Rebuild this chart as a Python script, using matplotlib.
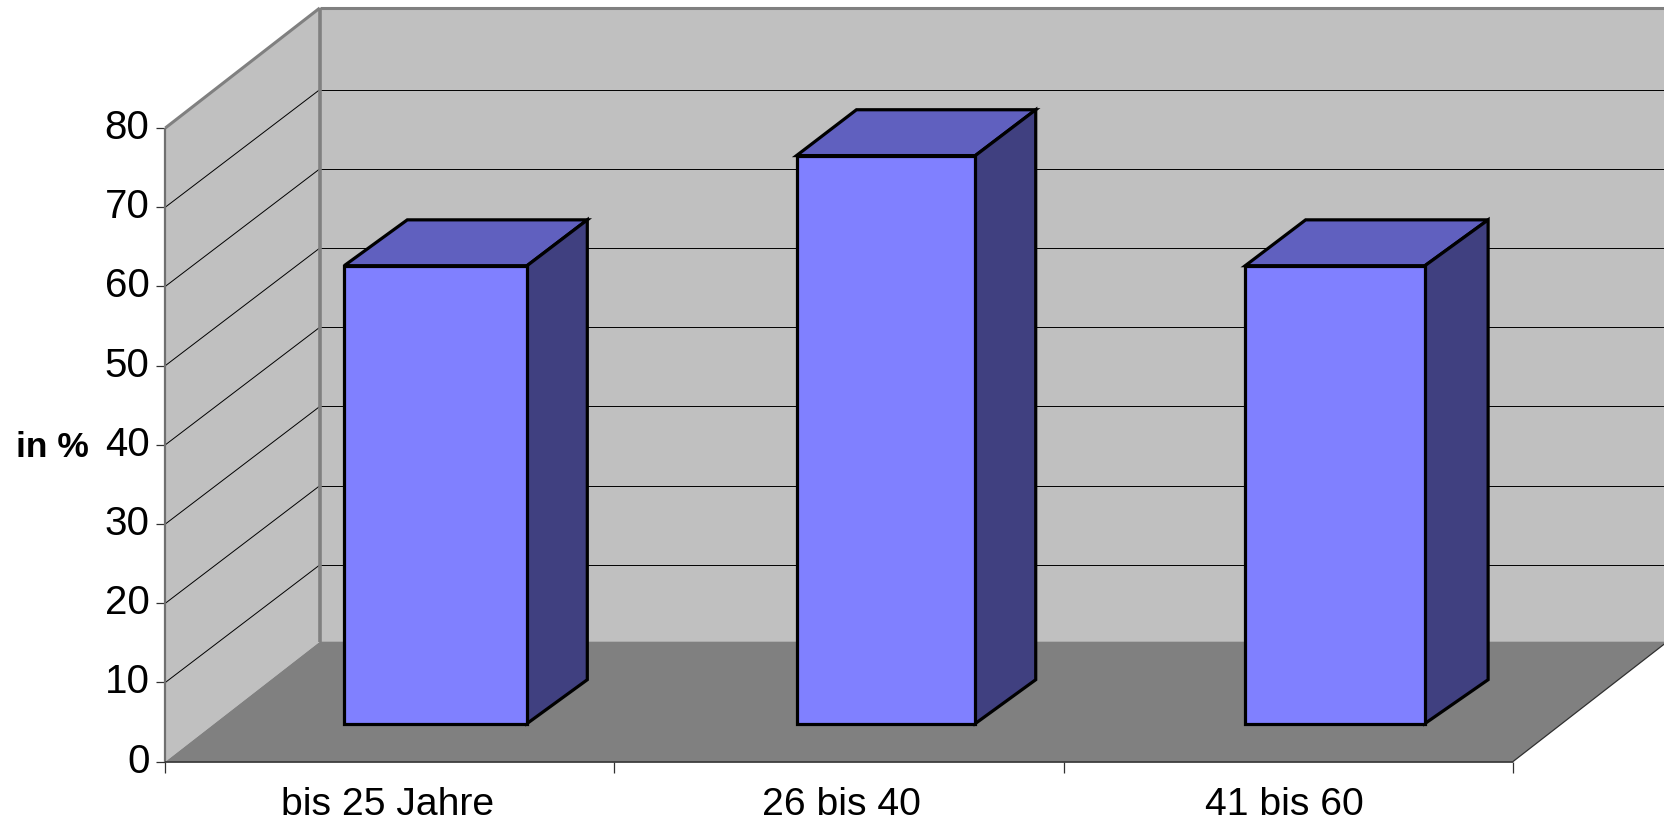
import matplotlib
matplotlib.use("Agg")
import matplotlib.pyplot as plt
from matplotlib.patches import Polygon
from matplotlib.transforms import ScaledTranslation

categories = ["bis 25 Jahre", "26 bis 40", "41 bis 60"]
values = [57.8, 71.7, 57.8]
bar_left = [0.289, 1.296, 2.295]
bar_width = [0.407, 0.398, 0.400]
bar_depth_end = [0.708, 0.709, 0.727]
bar_top_back_shift = [0.009, 0.002, 0.003]
y_ticks = [0, 10, 20, 30, 40, 50, 60, 70, 80]
label_shift_px = [-2, 2.5, -3.5]

W, H = 1665, 823
L, R, Y0, Y80 = 165.3, 1512.8, 761.7, 128.0
DX_PX, DY_PX = 154.5, 120.0
X_MAX, Y_MAX = 3, 80
PX_X = (R - L) / X_MAX
PX_Y = (Y0 - Y80) / Y_MAX
DX = DX_PX / PX_X
DY = DY_PX / PX_Y
D_START = 0.318
GRID_DROP = 2.4 / PX_Y
SIDE_DROP = 2.0 / PX_Y

WALL, FLOOR = "#C0C0C0", "#808080"
FRONT, TOP, SIDE = "#8080FF", "#6060BF", "#404080"

plt.rcParams["font.family"] = ["Liberation Sans", "DejaVu Sans"]
fig = plt.figure(figsize=(W / 100, H / 100), dpi=100, facecolor="white")
ax = fig.add_axes([L / W, 1 - Y0 / H, (R - L) / W, (Y0 - Y80) / H])
ax.set_xlim(0, X_MAX)
ax.set_ylim(0, Y_MAX)
ax.patch.set_visible(False)
for s in ax.spines.values():
    s.set_visible(False)


def p(x, y, d=0.0):
    return (x + d * DX, y + d * DY)


def poly(pts, fc, ec="none", lw=0, z=1):
    ax.add_patch(Polygon(pts, closed=True, facecolor=fc, edgecolor=ec, linewidth=lw,
                         clip_on=False, zorder=z, joinstyle="miter"))


# walls and floor
poly([p(0, 0), p(0, 0, 1), p(0, Y_MAX, 1), p(0, Y_MAX)], WALL)
poly([p(0, 0, 1), p(X_MAX, 0, 1), p(X_MAX, Y_MAX, 1), p(0, Y_MAX, 1)], WALL)
poly([p(0, 0), p(X_MAX, 0), p(X_MAX, 0, 1), p(0, 0, 1)], FLOOR)


def line(a, b, color="black", lw=0.7, z=2):
    ax.plot([a[0], b[0]], [a[1], b[1]], color=color, lw=lw, clip_on=False, zorder=z,
            solid_capstyle="butt")


# gridlines
for v in y_ticks[1:-1]:
    line(p(0, v), p(0, v - GRID_DROP, 1))
    line(p(0, v - GRID_DROP, 1), p(X_MAX, v - GRID_DROP, 1))

# wall borders
line(p(0, 0), p(0, Y_MAX), "#707070", 1.6, 3)
line(p(0, Y_MAX), p(0, Y_MAX, 1), "#808080", 2.2, 3)
line(p(0, 0, 1), p(0, Y_MAX, 1), "#808080", 2.6, 3)
line(p(0, Y_MAX, 1), p(X_MAX, Y_MAX, 1), "#808080", 2.2, 3)
line(p(0, 0), p(X_MAX, 0), "#303030", 1.2, 3)
line(p(X_MAX, 0), p(X_MAX, 0, 1), "#303030", 0.9, 3)

# bars
for left, width, val, d_end, sh in zip(bar_left, bar_width, values, bar_depth_end, bar_top_back_shift):
    right = left + width
    ekw = dict(ec="black", lw=2.3, z=5)
    back_left = (left + sh + 0.70 * DX, val + 0.70 * DY)
    back_right = (right + d_end * DX, val + 0.70 * DY)
    low_back = (right + d_end * DX, 0.70 * DY - SIDE_DROP)
    poly([p(left, val, D_START), p(right, val, D_START), back_right, back_left], TOP, **ekw)
    poly([p(right, 0, D_START), low_back, back_right, p(right, val, D_START)], SIDE, **ekw)
    poly([p(left, 0, D_START), p(right, 0, D_START), p(right, val, D_START), p(left, val, D_START)], FRONT, **ekw)

# axes ticks and labels
ax.set_yticks(y_ticks)
ax.set_xticks(range(X_MAX + 1))
ax.set_xticklabels([])
ax.set_xticks([i + 0.5 for i in range(X_MAX)], minor=True)
ax.set_xticklabels(categories, minor=True)
ax.tick_params(axis="y", which="major", length=6.5, width=0.9, color="#303030",
               labelsize=29, pad=4.8)
ax.tick_params(axis="x", which="major", length=8, width=0.9, color="#303030")
ax.tick_params(axis="x", which="minor", length=0, labelsize=28.2, pad=18.5)

for lab in ax.get_yticklabels():
    lab.set_transform(lab.get_transform() + ScaledTranslation(0, 4 / 100, fig.dpi_scale_trans))
for lab, sh in zip(ax.get_xticklabels(minor=True), label_shift_px):
    lab.set_transform(lab.get_transform() + ScaledTranslation(sh * 1.06 / 100, 0, fig.dpi_scale_trans))

ax.text(-0.332, 39.7, "in %", fontsize=25.5, fontweight="bold", ha="left", va="center", clip_on=False)

fig.savefig("out.png", dpi=100, facecolor="white")
